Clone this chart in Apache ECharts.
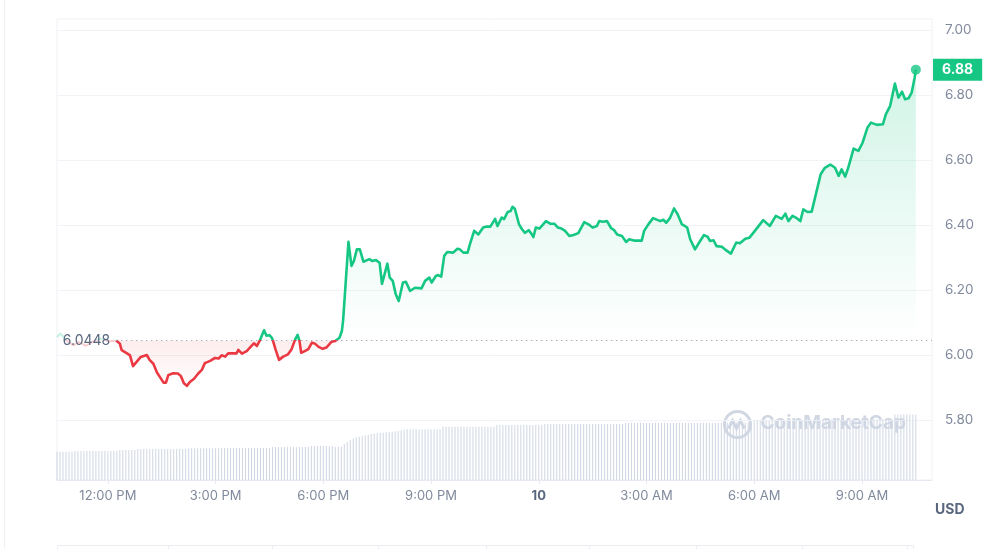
<!DOCTYPE html>
<html>
<head>
<meta charset="utf-8">
<script src="https://cdn.jsdelivr.net/npm/echarts@6/dist/echarts.min.js"></script>
<style>
html,body{margin:0;padding:0;background:#ffffff;}
#chart{width:986px;height:549px;}
</style>
</head>
<body>
<div id="chart"></div>
<script>
// ---------- DATA ----------
// times are minutes since 00:00 of day 9
const startDay = 9;
const axisStartMin = 635;   // 10:35 AM
const axisEndMin = 2097;    // 10:57 AM next day
const baseValue = 6.0448;   // 24h open
const yTickValues = [5.8, 6.0, 6.2, 6.4, 6.6, 6.8, 7.0];
const xTickMinutes = [720, 900, 1080, 1260, 1440, 1620, 1800, 1980]; // 12PM,3PM,6PM,9PM,10,3AM,6AM,9AM

const fadedTimes = [635,640,645,650,657,663,670,677,683,690,698,707,715,724,734];
const fadedValues = [6.055,6.066,6.058,6.046,6.036,6.030,6.040,6.035,6.028,6.036,6.044,6.050,6.046,6.042,6.0448];

const priceTimes = [
 734,740,743,752,757,762,768,775,785,790,
 796,802,806,813,817,821,829,837,842,847,
 852,857,864,871,877,882,891,899,905,910,
 916,921,927,935,938,944,952,960,964,969,
 974,981,985,990,994,996,1000,1006,1013,1021,
 1027,1033,1037,1040,1043,1049,1055,1061,1066,1072,
 1079,1085,1088,1094,1100,1103,1107,1111,1113,1122,
 1127,1131,1136,1141,1147,1157,1162,1168,1174,1178,
 1187,1191,1196,1201,1206,1213,1218,1225,1233,1244,
 1250,1257,1261,1268,1272,1277,1282,1287,1297,1304,
 1308,1314,1321,1325,1332,1339,1347,1353,1359,1362,
 1367,1371,1378,1382,1388,1393,1396,1400,1407,1412,
 1417,1423,1427,1431,1435,1441,1452,1459,1466,1472,
 1478,1484,1491,1498,1506,1516,1523,1530,1537,1541,
 1547,1554,1561,1566,1571,1579,1586,1591,1599,1612,
 1616,1623,1631,1643,1648,1653,1659,1666,1672,1679,
 1684,1688,1693,1701,1708,1716,1722,1726,1732,1737,
 1746,1751,1761,1770,1776,1785,1792,1801,1815,1826,
 1836,1846,1852,1857,1864,1871,1877,1882,1889,1896,
 1903,1911,1918,1927,1935,1941,1946,1952,1957,1966,
 1974,1981,1989,1995,2005,2015,2020,2027,2035,2041,
 2047,2052,2058,2063,2068,2070
];
const priceValues = [
 6.0448,6.035,6.015,6.005,5.999,5.966,5.979,5.994,6.000,5.984,
 5.973,5.946,5.935,5.915,5.915,5.938,5.944,5.943,5.935,5.913,
 5.905,5.917,5.927,5.943,5.954,5.975,5.982,5.991,5.989,5.999,
 5.995,6.005,6.005,6.005,6.016,6.004,6.012,6.028,6.036,6.028,
 6.045,6.076,6.059,6.061,6.053,6.043,6.018,5.985,5.995,6.002,
 6.018,6.048,6.062,6.045,6.007,6.012,6.018,6.038,6.035,6.025,
 6.019,6.023,6.018,6.041,6.043,6.043,6.053,6.074,6.105,6.348,
 6.274,6.289,6.325,6.325,6.287,6.295,6.289,6.292,6.284,6.219,
 6.281,6.238,6.228,6.187,6.166,6.223,6.225,6.197,6.207,6.205,
 6.228,6.238,6.223,6.243,6.246,6.241,6.305,6.317,6.315,6.327,
 6.325,6.315,6.315,6.341,6.382,6.371,6.392,6.395,6.395,6.389,
 6.419,6.397,6.423,6.418,6.440,6.443,6.456,6.450,6.402,6.387,
 6.376,6.384,6.375,6.363,6.392,6.389,6.412,6.404,6.404,6.392,
 6.389,6.382,6.366,6.369,6.375,6.409,6.402,6.392,6.397,6.412,
 6.410,6.412,6.390,6.384,6.371,6.366,6.348,6.356,6.352,6.352,
 6.382,6.402,6.421,6.412,6.416,6.407,6.421,6.451,6.433,6.402,
 6.397,6.392,6.356,6.325,6.346,6.369,6.364,6.351,6.353,6.335,
 6.333,6.325,6.312,6.346,6.344,6.358,6.361,6.382,6.415,6.397,
 6.428,6.419,6.435,6.412,6.428,6.421,6.412,6.448,6.440,6.441,
 6.495,6.556,6.576,6.586,6.576,6.551,6.571,6.549,6.576,6.635,
 6.628,6.653,6.699,6.715,6.708,6.710,6.741,6.766,6.835,6.792,
 6.810,6.787,6.790,6.807,6.853,6.878
];

// volume bars: one every 5 minutes starting at 10:35 AM (arbitrary units, millions)
const volumeStartMin = 635;
const volumeStepMin = 5;
const volumeValues = [
 61.4,61.4,61.4,61.4,61.4,61.4,
 62.9,62.9,62.9,62.9,62.9,62.9,62.9,62.9,62.9,62.9,62.9,62.9,62.9,62.9,62.9,
 65.1,65.1,65.1,65.1,65.1,65.1,
 67.2,67.2,67.2,67.2,67.2,67.2,67.2,67.2,67.2,67.2,67.2,67.2,67.2,67.2,67.2,67.2,67.2,
 68.8,68.8,68.8,68.8,68.8,68.8,68.8,68.8,68.8,68.8,68.8,
 69.4,69.4,69.4,69.4,69.4,69.4,69.4,69.4,69.4,69.4,69.4,69.4,69.4,69.4,69.4,69.4,69.4,
 71.6,71.6,71.6,71.6,71.6,71.6,71.6,71.6,71.6,71.6,71.6,71.6,71.6,
 73.7,73.7,73.7,73.7,73.7,73.7,73.7,73.7,
 72.2,72.2,72.2,
 78.1,82.4,86.8,90.0,92.2,93.9,95.4,97.0,98.3,99.8,100.4,101.3,102.0,102.6,103.0,103.5,104.8,105.6,106.3,107.8,109.1,
 110.0,110.0,110.0,110.0,110.0,110.0,110.0,110.0,110.0,110.0,110.0,110.0,
 115.6,115.6,115.6,115.6,115.6,115.6,115.6,115.6,115.6,115.6,115.6,115.6,115.6,115.6,115.6,115.6,115.6,115.6,
 119.3,119.3,119.3,119.3,119.3,119.3,119.3,119.3,119.3,119.3,119.3,119.3,119.3,119.3,119.3,119.3,
 121.5,121.5,121.5,121.5,121.5,121.5,121.5,121.5,121.5,121.5,121.5,121.5,121.5,121.5,121.5,121.5,121.5,121.5,121.5,121.5,121.5,121.5,121.5,121.5,121.5,121.5,121.5,
 123.6,123.6,123.6,123.6,123.6,123.6,123.6,123.6,123.6,123.6,123.6,123.6,123.6,123.6,123.6,123.6,123.6,123.6,123.6,123.6,123.6,123.6,123.6,123.6,123.6,123.6,123.6,123.6,123.6,123.6,123.6,123.6,
 124.7,124.7,124.7,124.7,124.7,124.7,124.7,124.7,124.7,124.7,124.7,
 129.1,129.1,129.1,129.1,129.1,129.1,129.1,129.1,129.1,129.1,129.1,129.1,129.1,129.1,129.1,129.1,129.1,129.1,129.1,129.1,129.1,129.1,129.1,
 131.2,131.2,131.2,131.2,131.2,131.2,131.2,131.2,131.2,131.2,131.2,131.2,131.2,131.2,131.2,131.2,131.2,131.2,131.2,131.2,131.2,131.2,131.2,131.2,
 142.1,142.1,142.1,142.1,142.1,142.1,142.1,142.1
];

// ---------- CHART ----------
const GREEN = '#16c784', RED = '#ea3943';
const lastValue = priceValues[priceValues.length - 1];
const lastTime = priceTimes[priceTimes.length - 1];

function fmtTime(val) {
  const m = Math.round(val);
  const h = Math.floor(m / 60) % 24, mm = m % 60;
  if (h === 0 && mm === 0) return '{b|' + (startDay + Math.floor(m / 1440)) + '}';
  const hh = (h % 12 === 0) ? 12 : h % 12;
  return hh + ':' + String(mm).padStart(2, '0') + ' ' + (h < 12 ? 'AM' : 'PM');
}

const FONT = 'Inter, "Noto Sans", sans-serif';
const vmin = 0, vmax = 100; // finite outer bounds for the colour pieces

const option = {
  animation: false,
  textStyle: { fontFamily: FONT },
  grid: { left: 57, right: 54, top: 19, bottom: 69, show: true, borderColor: '#eef1f5', borderWidth: 1, backgroundColor: 'transparent' },
  xAxis: {
    type: 'value',
    min: axisStartMin, max: axisEndMin,
    axisLine: { show: true, lineStyle: { color: '#e6eaf0' } },
    axisTick: { show: true, length: 4, customValues: xTickMinutes, lineStyle: { color: '#e6eaf0' } },
    splitLine: { show: false },
    axisLabel: {
      customValues: xTickMinutes,
      color: '#808a9d', fontSize: 13, margin: 10, fontFamily: FONT,
      hideOverlap: false,
      formatter: fmtTime,
      rich: { b: { fontWeight: 'bold', color: '#58667e', fontSize: 13, fontFamily: FONT } }
    }
  },
  yAxis: [{
    type: 'value', position: 'right',
    min: 5.6154, max: 7.0338, splitNumber: 7,
    axisLine: { show: false },
    axisTick: { show: false, customValues: yTickValues },
    axisLabel: {
      customValues: yTickValues,
      color: '#808a9d', fontSize: 13.5, margin: 13, fontFamily: FONT,
      formatter: v => Number(v).toFixed(2)
    },
    splitLine: { show: true, lineStyle: { color: '#f1f3f6', width: 1 } },
    axisPointer: {
      show: true, type: 'line', status: 'show', value: lastValue, triggerTooltip: false,
      lineStyle: { opacity: 0 },
      label: {
        show: true, formatter: p => Number(p.value).toFixed(2),
        backgroundColor: GREEN, color: '#ffffff', fontWeight: 'bold', fontSize: 14,
        fontFamily: FONT, padding: [4, 9, 4, 9], margin: 1, borderRadius: 0
      }
    }
  }, {
    type: 'value', min: 0, max: 1000, show: false,
    splitLine: { show: false }
  }],
  visualMap: [{
    type: 'piecewise', show: false, seriesIndex: 2, dimension: 1,
    pieces: [{ gte: vmin, lt: baseValue, color: RED }, { gte: baseValue, lte: vmax, color: GREEN }]
  }, {
    type: 'piecewise', show: false, seriesIndex: 1, dimension: 1,
    pieces: [{ gte: vmin, lt: baseValue, color: 'rgba(234,57,67,0.25)' }, { gte: baseValue, lte: vmax, color: 'rgba(22,199,132,0.25)' }]
  }],
  series: [{
    name: 'Volume', type: 'bar', xAxisIndex: 0, yAxisIndex: 1,
    data: volumeValues.map((v, i) => [volumeStartMin + i * volumeStepMin, v]),
    barWidth: 1, silent: true,
    itemStyle: { color: '#cfd6e3' }, z: 1
  }, {
    name: 'Earlier', type: 'line', yAxisIndex: 0,
    data: fadedTimes.map((t, i) => [t, fadedValues[i]]),
    showSymbol: false, silent: true, lineStyle: { width: 2 }, z: 2
  }, {
    name: 'Price', type: 'line', yAxisIndex: 0,
    data: priceTimes.map((t, i) => [t, priceValues[i]]),
    showSymbol: false, silent: true,
    lineStyle: { width: 2.6, join: 'round' },
    areaStyle: { origin: baseValue, color: 'rgba(22,199,132,0.1)' },
    z: 3,
    markLine: {
      silent: true, symbol: ['none', 'none'],
      lineStyle: { color: '#8a93a6', type: [1, 4], width: 1 },
      label: { show: true, position: 'start', formatter: String(baseValue), color: '#58667e', fontSize: 14, fontFamily: FONT, distance: 6 },
      emphasis: { disabled: true },
      data: [[{ coord: [priceTimes[0], baseValue] }, { coord: [axisEndMin, baseValue] }]]
    }
  }, {
    name: 'Last', type: 'scatter', yAxisIndex: 0,
    data: [[lastTime, lastValue]],
    symbolSize: 10, itemStyle: { color: GREEN }, silent: true, z: 5
  }],
  graphic: [
    { type: 'line', silent: true, shape: { x1: 4.5, y1: 0, x2: 4.5, y2: 549 }, style: { stroke: '#eef1f5', lineWidth: 1 } },
    { type: 'text', silent: true, left: 935, top: 503, style: { text: 'USD', font: 'bold 14px ' + FONT, fill: '#58667e' } },
    { type: 'group', silent: true, left: 722, top: 409, z: 0, children: [
      { type: 'circle', shape: { cx: 15, cy: 15, r: 13 }, style: { fill: 'none', stroke: 'rgba(200,208,222,0.85)', lineWidth: 3 } },
      { type: 'polyline', shape: { points: [[6, 19], [10, 11], [14, 19], [18, 11], [22, 19]] }, style: { fill: 'none', stroke: 'rgba(200,208,222,0.85)', lineWidth: 3 } },
      { type: 'text', x: 38, y: 4, style: { text: 'CoinMarketCap', font: 'bold 19px ' + FONT, fill: 'rgba(200,208,222,0.85)' } }
    ]},
    { type: 'rect', silent: true, shape: { x: 57.5, y: 545.5, width: 856, height: 20 }, style: { fill: 'none', stroke: '#e9edf2', lineWidth: 1 } },
    { type: 'group', silent: true, children: [168, 272, 378, 486, 589, 696, 802, 907].map(x => ({
      type: 'line', shape: { x1: x + 0.5, y1: 545, x2: x + 0.5, y2: 549 }, style: { stroke: '#e9edf2', lineWidth: 1 }
    })) }
  ]
};

const chart = echarts.init(document.getElementById('chart'), null, { renderer: 'canvas' });
chart.setOption(option);

// area gradient in pixel space: green above the open price, red below it
const yOf = v => chart.convertToPixel({ yAxisIndex: 0 }, v);
const yTop = yOf(Math.max(...priceValues));
const yLow = yOf(Math.min(...priceValues));
const yBase = yOf(baseValue);
const f = Math.min(0.999, Math.max(0.001, (yBase - yTop) / (yLow - yTop)));
chart.setOption({
  series: [{}, {}, {
    areaStyle: {
      origin: baseValue,
      color: {
        type: 'linear', x: 0, y: yTop, x2: 0, y2: yLow, global: true,
        colorStops: [
          { offset: 0, color: 'rgba(22,199,132,0.28)' },
          { offset: f - 0.001, color: 'rgba(22,199,132,0.0)' },
          { offset: f, color: 'rgba(234,57,67,0.13)' },
          { offset: 1, color: 'rgba(234,57,67,0.02)' }
        ]
      }
    }
  }, {}]
});
</script>
</body>
</html>
